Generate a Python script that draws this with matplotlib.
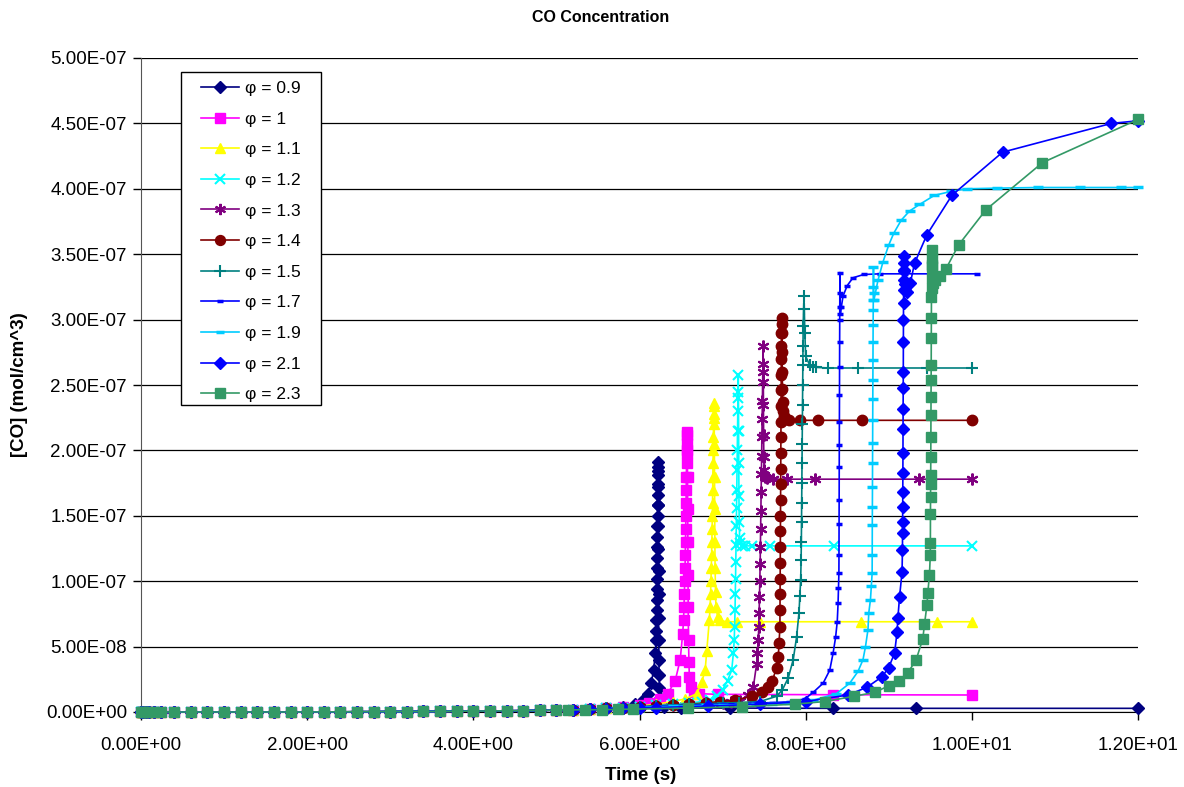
import matplotlib
matplotlib.use("Agg")
import matplotlib.pyplot as plt
from matplotlib.patches import Rectangle
from matplotlib.ticker import FuncFormatter, MultipleLocator

plt.rcParams['font.family'] = ['Liberation Sans', 'DejaVu Sans']

# CO values below are in units of 1e-7 mol/cm^3
SCALE = 1e-7

# common induction period (all mixtures stay near zero here)
t_pre = [0.0, 0.01, 0.03, 0.06, 0.1, 0.16, 0.24, 0.4, 0.6, 0.8, 1.0, 1.2, 1.4, 1.6, 1.8, 2.0,
         2.2, 2.4, 2.6, 2.8, 3.0, 3.2, 3.4, 3.6, 3.8, 4.0, 4.2, 4.4, 4.6, 4.8, 5.0]
co_pre = [0.0, 0.0, 0.0, 0.0, 0.0, 0.0, 0.0, 0.0, 0.0, 0.0, 0.0, 0.0, 0.0, 0.0, 0.0, 0.0,
          0.001, 0.001, 0.002, 0.002, 0.003, 0.003, 0.004, 0.005, 0.006, 0.007, 0.008, 0.009, 0.010, 0.012, 0.015]

# phi = 0.9
t_09 = [5.2, 5.4, 5.6, 5.8, 5.95, 6.05, 6.1, 6.14, 6.17, 6.19,
        6.2, 6.202, 6.204, 6.206, 6.208, 6.21, 6.211, 6.212, 6.213, 6.214,
        6.215, 6.216, 6.217, 6.218, 6.219, 6.22, 6.221, 6.222, 6.223, 6.224,
        6.225, 6.226, 6.227, 6.228, 6.229, 6.23, 6.231, 6.232, 6.234, 6.236,
        6.24, 6.245, 6.26, 6.3, 6.5, 7.09, 8.33, 9.33, 12.0]
co_09 = [0.018, 0.022, 0.028, 0.04, 0.06, 0.1, 0.14, 0.22, 0.32, 0.45,
         0.55, 0.62, 0.7, 0.78, 0.86, 0.94, 1.02, 1.1, 1.18, 1.26,
         1.34, 1.42, 1.5, 1.58, 1.66, 1.74, 1.81, 1.87, 1.91, 1.84,
         1.72, 1.58, 1.42, 1.25, 1.08, 0.9, 0.72, 0.55, 0.4, 0.28,
         0.18, 0.11, 0.06, 0.04, 0.03, 0.03, 0.028, 0.028, 0.028]

# phi = 1
t_10 = [5.2, 5.4, 5.6, 5.8, 6.0, 6.12, 6.25, 6.34, 6.43, 6.49,
        6.52, 6.53, 6.535, 6.54, 6.544, 6.548, 6.551, 6.554, 6.556, 6.558,
        6.56, 6.562, 6.564, 6.566, 6.568, 6.57, 6.572, 6.574, 6.576, 6.578,
        6.58, 6.582, 6.584, 6.586, 6.59, 6.595, 6.6, 6.62, 6.66, 6.72,
        6.94, 8.33, 10.0]
co_10 = [0.018, 0.022, 0.028, 0.036, 0.05, 0.07, 0.1, 0.14, 0.24, 0.4,
         0.6, 0.7, 0.8, 0.9, 1.0, 1.1, 1.2, 1.3, 1.4, 1.5,
         1.6, 1.7, 1.8, 1.9, 1.98, 2.06, 2.12, 2.14, 2.0, 1.8,
         1.55, 1.3, 1.05, 0.8, 0.55, 0.38, 0.27, 0.19, 0.155, 0.14,
         0.135, 0.132, 0.13]

# phi = 1.1
t_11 = [5.2, 5.4, 5.6, 5.8, 6.0, 6.2, 6.4, 6.55, 6.69, 6.75,
        6.79, 6.81, 6.84, 6.85, 6.855, 6.86, 6.864, 6.868, 6.871, 6.874,
        6.877, 6.879, 6.881, 6.883, 6.885, 6.887, 6.889, 6.891, 6.893, 6.895,
        6.897, 6.899, 6.901, 6.903, 6.905, 6.907, 6.91, 6.915, 6.92, 6.94,
        6.97, 7.05, 7.17, 7.45, 8.66, 9.58, 10.0]
co_11 = [0.018, 0.022, 0.028, 0.035, 0.045, 0.06, 0.08, 0.1, 0.14, 0.23,
         0.32, 0.47, 0.7, 0.8, 0.9, 1.0, 1.1, 1.2, 1.3, 1.4,
         1.5, 1.6, 1.7, 1.8, 1.9, 2.0, 2.1, 2.2, 2.28, 2.34,
         2.36, 2.25, 2.05, 1.8, 1.55, 1.3, 1.1, 0.92, 0.8, 0.73,
         0.70, 0.69, 0.69, 0.69, 0.69, 0.69, 0.69]

# phi = 1.2
t_12 = [5.2, 5.4, 5.6, 5.8, 6.0, 6.2, 6.4, 6.6, 6.75, 6.85,
        6.93, 7.0, 7.06, 7.11, 7.13, 7.14, 7.145, 7.15, 7.153, 7.156,
        7.159, 7.162, 7.165, 7.168, 7.171, 7.174, 7.177, 7.18, 7.183, 7.186,
        7.189, 7.191, 7.193, 7.195, 7.197, 7.2, 7.205, 7.21, 7.23, 7.27,
        7.36, 7.57, 8.34, 10.0]
co_12 = [0.018, 0.022, 0.027, 0.033, 0.04, 0.05, 0.06, 0.07, 0.08, 0.09,
         0.12, 0.17, 0.24, 0.32, 0.45, 0.55, 0.65, 0.78, 0.9, 1.02,
         1.15, 1.28, 1.42, 1.56, 1.7, 1.85, 2.0, 2.15, 2.3, 2.45,
         2.58, 2.4, 2.15, 1.9, 1.65, 1.45, 1.33, 1.29, 1.27, 1.27,
         1.27, 1.27, 1.27, 1.27]

# phi = 1.3
t_13 = [5.2, 5.4, 5.6, 5.8, 6.0, 6.2, 6.4, 6.6, 6.8, 7.0,
        7.1, 7.21, 7.3, 7.37, 7.41, 7.42, 7.43, 7.435, 7.44, 7.444,
        7.448, 7.452, 7.455, 7.458, 7.461, 7.464, 7.467, 7.47, 7.473, 7.476,
        7.479, 7.482, 7.485, 7.488, 7.49, 7.492, 7.494, 7.496, 7.5, 7.51,
        7.53, 7.61, 7.77, 8.11, 9.36, 10.0]
co_13 = [0.018, 0.022, 0.027, 0.032, 0.038, 0.045, 0.052, 0.06, 0.065, 0.07,
         0.075, 0.085, 0.13, 0.19, 0.37, 0.45, 0.55, 0.65, 0.76, 0.88,
         1.0, 1.13, 1.26, 1.4, 1.54, 1.68, 1.82, 1.96, 2.1, 2.24,
         2.38, 2.52, 2.66, 2.8, 2.6, 2.35, 2.12, 1.95, 1.85, 1.8,
         1.79, 1.78, 1.78, 1.78, 1.78, 1.78]

# phi = 1.4
t_14 = [5.2, 5.4, 5.6, 5.8, 6.0, 6.2, 6.4, 6.6, 6.8, 6.97,
        7.15, 7.35, 7.47, 7.55, 7.6, 7.65, 7.67, 7.68, 7.69, 7.691,
        7.692, 7.693, 7.694, 7.695, 7.696, 7.697, 7.698, 7.699, 7.7, 7.701,
        7.702, 7.703, 7.704, 7.705, 7.706, 7.707, 7.708, 7.709, 7.71, 7.711,
        7.713, 7.715, 7.718, 7.721, 7.725, 7.73, 7.74, 7.76, 7.8, 7.93,
        8.15, 8.68, 10.0]
co_14 = [0.018, 0.022, 0.027, 0.032, 0.038, 0.045, 0.052, 0.06, 0.07, 0.08,
         0.09, 0.12, 0.15, 0.19, 0.24, 0.34, 0.42, 0.53, 0.65, 0.78,
         0.9, 1.02, 1.14, 1.26, 1.38, 1.5, 1.62, 1.74, 1.86, 1.98,
         2.1, 2.22, 2.34, 2.46, 2.58, 2.7, 2.8, 2.9, 2.97, 3.01,
         2.9, 2.75, 2.6, 2.47, 2.37, 2.3, 2.26, 2.24, 2.23, 2.23,
         2.23, 2.23, 2.23]

# phi = 1.5
t_15 = [5.2, 5.4, 5.6, 5.8, 6.0, 6.2, 6.4, 6.6, 6.8, 7.0,
        7.2, 7.45, 7.65, 7.72, 7.79, 7.85, 7.89, 7.92, 7.93, 7.94,
        7.945, 7.948, 7.95, 7.952, 7.954, 7.956, 7.958, 7.96, 7.962, 7.964,
        7.966, 7.968, 7.97, 7.975, 7.98, 7.99, 8.0, 8.05, 8.09, 8.13,
        8.27, 8.63, 9.46, 10.0]
co_15 = [0.018, 0.022, 0.027, 0.032, 0.038, 0.045, 0.052, 0.058, 0.063, 0.068,
         0.072, 0.08, 0.12, 0.17, 0.26, 0.40, 0.57, 0.76, 0.89, 1.01,
         1.16, 1.3, 1.45, 1.6, 1.75, 1.9, 2.05, 2.2, 2.35, 2.5,
         2.65, 2.8, 2.95, 3.08, 3.18, 2.9, 2.72, 2.65, 2.64, 2.635,
         2.63, 2.63, 2.63, 2.63]

# phi = 1.7
t_17 = [5.2, 5.4, 5.6, 5.8, 6.0, 6.2, 6.4, 6.6, 6.8, 7.0,
        7.2, 7.4, 7.6, 7.8, 7.99, 8.09, 8.21, 8.29, 8.33, 8.36,
        8.38, 8.39, 8.395, 8.40, 8.401, 8.402, 8.403, 8.404, 8.405, 8.406,
        8.407, 8.408, 8.409, 8.41, 8.411, 8.412, 8.414, 8.418, 8.43, 8.45,
        8.5, 8.57, 8.7, 8.9, 9.2, 9.6, 10.06]
co_17 = [0.018, 0.022, 0.027, 0.032, 0.037, 0.042, 0.047, 0.052, 0.056, 0.06,
         0.064, 0.068, 0.072, 0.078, 0.1, 0.15, 0.22, 0.32, 0.45, 0.57,
         0.69, 0.83, 0.95, 1.06, 1.2, 1.44, 1.62, 1.87, 2.04, 2.22,
         2.42, 2.64, 2.83, 3.0, 3.2, 3.36, 3.1, 3.04, 3.1, 3.18,
         3.26, 3.32, 3.345, 3.35, 3.35, 3.35, 3.35]

# phi = 1.9
t_19 = [5.2, 5.4, 5.6, 5.8, 6.0, 6.2, 6.4, 6.6, 6.8, 7.0,
        7.2, 7.4, 7.6, 7.8, 8.0, 8.09, 8.37, 8.53, 8.63, 8.69,
        8.72, 8.75, 8.76, 8.78, 8.79, 8.8, 8.801, 8.802, 8.803, 8.804,
        8.805, 8.806, 8.807, 8.808, 8.809, 8.81, 8.811, 8.812, 8.813, 8.814,
        8.815, 8.816, 8.818, 8.822, 8.87, 8.93, 9.0, 9.06, 9.15, 9.25,
        9.37, 9.55, 9.75, 9.94, 10.3, 10.8, 11.3, 11.8, 12.0]
co_19 = [0.018, 0.022, 0.027, 0.031, 0.035, 0.039, 0.043, 0.047, 0.05, 0.053,
         0.056, 0.06, 0.064, 0.068, 0.075, 0.09, 0.14, 0.22, 0.31, 0.40,
         0.50, 0.63, 0.76, 0.86, 0.96, 1.06, 1.2, 1.43, 1.57, 1.72,
         1.9, 2.06, 2.23, 2.39, 2.54, 2.69, 2.83, 2.96, 3.07, 3.15,
         3.25, 3.40, 3.2, 3.15, 3.30, 3.44, 3.57, 3.66, 3.76, 3.83,
         3.88, 3.95, 3.98, 4.0, 4.005, 4.01, 4.01, 4.01, 4.01]

# phi = 2.1
t_21 = [5.2, 5.4, 5.6, 5.8, 6.0, 6.2, 6.82, 7.45, 8.0, 8.51,
        8.74, 8.92, 9.0, 9.07, 9.1, 9.11, 9.13, 9.16, 9.165, 9.166,
        9.167, 9.168, 9.169, 9.17, 9.171, 9.172, 9.173, 9.174, 9.175, 9.176,
        9.177, 9.178, 9.179, 9.18, 9.181, 9.182, 9.183, 9.186, 9.19, 9.2,
        9.22, 9.26, 9.31, 9.46, 9.76, 10.37, 11.68, 12.0]
co_21 = [0.017, 0.02, 0.024, 0.028, 0.031, 0.034, 0.045, 0.06, 0.08, 0.13,
         0.19, 0.27, 0.34, 0.45, 0.61, 0.72, 0.88, 1.07, 1.24, 1.37,
         1.45, 1.57, 1.68, 1.83, 1.98, 2.16, 2.32, 2.48, 2.6, 2.83,
         3.0, 3.13, 3.23, 3.3, 3.37, 3.43, 3.49, 3.38, 3.27, 3.23,
         3.21, 3.28, 3.43, 3.65, 3.95, 4.28, 4.50, 4.52]

# phi = 2.3
t_23 = [5.14, 5.34, 5.55, 5.74, 5.92, 6.58, 7.23, 7.87, 8.23, 8.58,
        8.83, 9.0, 9.12, 9.23, 9.33, 9.41, 9.43, 9.46, 9.47, 9.49,
        9.5, 9.501, 9.502, 9.503, 9.504, 9.505, 9.506, 9.507, 9.508, 9.509,
        9.51, 9.511, 9.512, 9.513, 9.514, 9.515, 9.516, 9.517, 9.518, 9.519,
        9.522, 9.527, 9.535, 9.56, 9.62, 9.69, 9.84, 10.17, 10.85, 12.0]
co_23 = [0.016, 0.017, 0.018, 0.02, 0.022, 0.03, 0.04, 0.06, 0.08, 0.12,
         0.15, 0.2, 0.24, 0.3, 0.4, 0.56, 0.67, 0.82, 0.91, 1.05,
         1.2, 1.29, 1.51, 1.64, 1.74, 1.81, 1.95, 2.10, 2.27, 2.41,
         2.54, 2.65, 2.86, 3.01, 3.17, 3.24, 3.32, 3.40, 3.47, 3.53,
         3.42, 3.32, 3.28, 3.30, 3.33, 3.39, 3.57, 3.84, 4.20, 4.53]

labels = ['φ = 0.9', 'φ = 1', 'φ = 1.1', 'φ = 1.2', 'φ = 1.3', 'φ = 1.4',
          'φ = 1.5', 'φ = 1.7', 'φ = 1.9', 'φ = 2.1', 'φ = 2.3']
times = [t_09, t_10, t_11, t_12, t_13, t_14, t_15, t_17, t_19, t_21, t_23]
concs = [co_09, co_10, co_11, co_12, co_13, co_14, co_15, co_17, co_19, co_21, co_23]

# Excel-like series styles: (color, marker, markersize, marker edge width)
styles = [
    ('#000080', 'D', 6.3, 1.0),
    ('#FF00FF', 's', 7.3, 1.0),
    ('#FFFF00', '^', 7.8, 1.0),
    ('#00FFFF', 'x', 7.0, 1.5),
    ('#800080', (6, 2, 0), 8.5, 1.5),
    ('#800000', 'o', 7.5, 1.0),
    ('#008080', '+', 8.5, 1.5),
    ('#0000FF', '_', 4.5, 2.5),
    ('#00CCFF', '_', 6.5, 2.5),
    ('#0000FF', 'D', 6.3, 1.0),
    ('#339966', 's', 7.3, 1.0),
]

fig = plt.figure(figsize=(11.84, 7.87), dpi=100)
ax = fig.add_axes([141 / 1184, 1 - 712 / 787, 997 / 1184, 654 / 787])

handles = []
for lab, t, c, (col, mk, ms, mew) in zip(labels, times, concs, styles):
    tt = t_pre + t
    cc = co_pre + c
    ln, = ax.plot(tt, [v * SCALE for v in cc], color=col, lw=1.2, marker=mk, ms=ms,
                  mfc=col, mec=col, mew=mew, label=lab, clip_on=False, zorder=3)
    handles.append(ln)

ax.set_xlim(0, 12)
ax.set_ylim(0, 5e-7)
ax.xaxis.set_major_locator(MultipleLocator(2))
ax.yaxis.set_major_locator(MultipleLocator(0.5e-7))
fmt = FuncFormatter(lambda v, p: f"{v:.2E}")
ax.xaxis.set_major_formatter(fmt)
ax.yaxis.set_major_formatter(fmt)

ax.yaxis.grid(True, color='black', lw=0.9)
ax.set_axisbelow(True)
for side in ['top', 'right']:
    ax.spines[side].set_visible(False)
ax.spines['left'].set_color('#555555')
ax.spines['bottom'].set_color('black')
ax.tick_params(axis='both', direction='out', length=6, width=1, labelsize=13.5, colors='black')
ax.tick_params(axis='x', pad=12)
ax.tick_params(axis='y', pad=4)

fig.text(601 / 1184, 1 - 17 / 787, 'CO Concentration', ha='center', va='center',
         fontsize=11.5, fontweight='bold')
fig.text(641 / 1184, 1 - 775 / 787, 'Time (s)', ha='center', va='center',
         fontsize=13.5, fontweight='bold')
fig.text(20 / 1184, 1 - 385 / 787, '[CO] (mol/cm^3)', ha='center', va='center',
         rotation=90, fontsize=13.5, fontweight='bold')

# legend box drawn separately so the side margins can be wider than the top one
box = Rectangle((181 / 1184, 1 - 405 / 787), 140 / 1184, 333 / 787,
                transform=fig.transFigure, facecolor='white', edgecolor='black',
                lw=1.0, zorder=4)
fig.add_artist(box)
leg = fig.legend(handles, labels, loc='upper left',
                 bbox_to_anchor=(201 / 1184, 1 - 81 / 787),
                 borderaxespad=0, borderpad=0, fontsize=12.5, frameon=False,
                 handlelength=2.2, handletextpad=0.35, labelspacing=0.89,
                 markerscale=0.95)
leg.set_zorder(5)

fig.savefig('out.png', dpi=100)
